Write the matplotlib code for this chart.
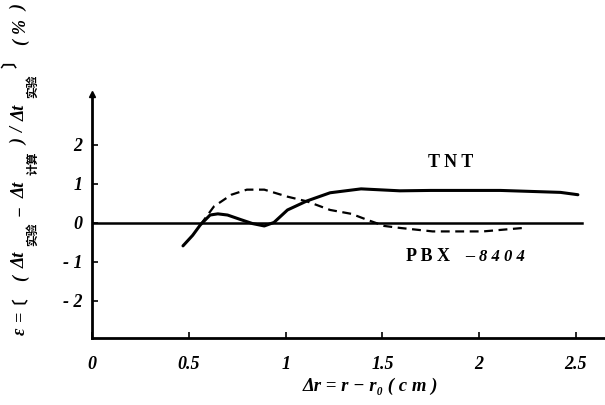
import matplotlib
matplotlib.use('Agg')
import matplotlib.pyplot as plt

# values
tnt_x = [0.47, 0.52, 0.56, 0.61, 0.65, 0.70, 0.77, 0.83, 0.89, 0.94, 1.01, 1.11, 1.23, 1.39, 1.59, 1.75, 2.11, 2.42, 2.51]
tnt_y = [-0.59, -0.32, -0.05, 0.20, 0.23, 0.20, 0.08, -0.02, -0.08, 0.01, 0.33, 0.56, 0.77, 0.87, 0.82, 0.83, 0.83, 0.78, 0.72]

pbx_x = [0.56, 0.63, 0.72, 0.80, 0.89, 1.01, 1.11, 1.23, 1.34, 1.42, 1.51, 1.59, 1.76, 2.02, 2.23]
pbx_y = [-0.05, 0.42, 0.72, 0.85, 0.85, 0.67, 0.55, 0.33, 0.23, 0.08, -0.08, -0.13, -0.22, -0.22, -0.13]

x_ticks = [0, 0.5, 1, 1.5, 2, 2.5]
x_labels = ['0', '0.5', '1', '1.5', '2', '2.5']
y_ticks = [-2, -1, 0, 1, 2]
y_labels = ['- 2', '- 1', '0', '1', '2']

W, H = 605, 405
SERIF = ['Liberation Serif', 'DejaVu Serif']
CJK = ['Noto Sans CJK SC', 'DejaVu Sans']

fig = plt.figure(figsize=(W / 100, H / 100), dpi=100)
ax = fig.add_axes([92 / W, 67 / H, (W - 92) / W, 244 / H])
ax.set_xlim(0, 2.65)
ax.set_ylim(-2.95, 3.3)

ax.plot([0, 2.53], [0, 0], color='black', lw=1.8)
ax.plot(tnt_x, tnt_y, color='black', lw=2.2, solid_capstyle='round')
ax.plot(pbx_x, pbx_y, color='black', lw=1.6, dashes=(4, 2.5))

for s in ['top', 'right']:
    ax.spines[s].set_visible(False)
for s in ['left', 'bottom']:
    ax.spines[s].set_linewidth(2)
ax.plot(0, 1, marker='^', color='black', ms=5, transform=ax.transAxes, clip_on=False)

ax.set_xticks(x_ticks)
ax.set_xticklabels(x_labels)
ax.set_yticks(y_ticks)
ax.set_yticklabels(y_labels)
ax.tick_params(axis='x', direction='in', length=4, width=1.2, pad=13)
ax.tick_params(axis='y', direction='in', length=4, width=1.2, pad=7)
for lab in ax.get_xticklabels() + ax.get_yticklabels():
    lab.set_family(SERIF)
    lab.set_fontsize(13)
    lab.set_fontweight('bold')
    lab.set_fontstyle('italic')

ax.text(1.85, 1.54, 'T N T', family=SERIF, fontsize=13, fontweight='bold', ha='center', va='center')
ax.text(1.62, -0.87, 'P B X', family=SERIF, fontsize=13, fontweight='bold', ha='left', va='center')
ax.text(1.95, -0.87, '–', family=SERIF, fontsize=13, fontweight='bold', ha='center', va='center')
ax.text(2.0, -0.87, '8 4 0 4', family=SERIF, fontsize=12, fontweight='bold', style='italic',
        ha='left', va='center')

fig.text(370 / W, 1 - 386 / H, 'Δr = r − r₀ ( c m )', family=SERIF, fontsize=13.5,
         fontweight='bold', style='italic', ha='center', va='center')

# rotated y label built from pieces so the Chinese parts sit as subscripts
pieces = [('ε', 'm'), ('=', 'm'), ('〔', 'b'), ('(', 'm'), ('Δt', 'm'), ('实验', 's'),
          ('−', 'm'), ('Δt', 'm'), ('计算', 's'), (')', 'm'), ('/', 'm'),
          ('Δt', 'm'), ('实验', 's'), ('〕', 'b'), ('(', 'm'), ('%', 'm'), (')', 'm')]
texts = []
for s, kind in pieces:
    if kind == 's':
        t = fig.text(33 / W, 0, s, family=CJK, fontsize=8.5, fontweight='bold',
                     rotation=90, ha='center', va='bottom')
    elif kind == 'b':
        t = fig.text(11 / W, 0, s, family=CJK, fontsize=12, fontweight='bold',
                     rotation=90, ha='center', va='bottom')
    else:
        t = fig.text(20 / W, 0, s, family=SERIF, fontsize=13, fontweight='bold',
                     style='italic', rotation=90, ha='center', va='bottom')
    texts.append(t)

fig.canvas.draw()
renderer = fig.canvas.get_renderer()
heights = [t.get_window_extent(renderer).height for t in texts]
gap = (330 - sum(heights)) / (len(texts) - 1)
ypos = 335
for t, h in zip(texts, heights):
    t.set_y(1 - ypos / H)
    ypos -= h + gap

fig.savefig('out.png', dpi=100)
